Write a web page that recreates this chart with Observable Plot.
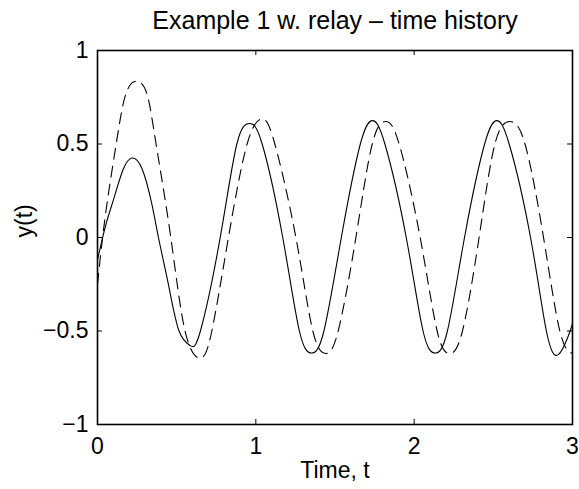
<!DOCTYPE html>
<html>
<head>
<meta charset="utf-8">
<script src="https://cdn.jsdelivr.net/npm/d3@7"></script>
<script src="https://cdn.jsdelivr.net/npm/@observablehq/plot@0.6"></script>
<style>
  html, body { margin: 0; padding: 0; background: #fff; }
</style>
</head>
<body>
<div id="chart"></div>
<script>
// ---- data ----
const titleText = "Example 1 w. relay \u2013 time history";
const xLabelText = "Time, t";
const yLabelText = "y(t)";

const xTicks = [0, 1, 2, 3];
const xTickLabels = ["0", "1", "2", "3"];
const yTicks = [-1, -0.5, 0, 0.5, 1];
const yTickLabels = ["\u22121", "\u22120.5", "0", "0.5", "1"];

// solid line
const tSolid = [0, 0.05, 0.10, 0.16, 0.217, 0.28, 0.343, 0.385, 0.45, 0.515, 0.585, 0.65, 0.775, 0.88, 0.96, 1.04, 1.17, 1.275, 1.352, 1.43, 1.54, 1.66, 1.737, 1.815, 1.95, 2.056, 2.133, 2.21, 2.318, 2.445, 2.522, 2.60, 2.735, 2.835, 2.912, 2.985, 3.0];
const ySolid = [-0.12, 0.06, 0.2, 0.36, 0.425, 0.37, 0.18, 0, -0.26, -0.5, -0.578, -0.5, 0, 0.5, 0.61, 0.5, 0, -0.5, -0.618, -0.5, 0, 0.5, 0.625, 0.5, 0, -0.5, -0.618, -0.5, 0, 0.5, 0.625, 0.5, 0, -0.5, -0.625, -0.5, -0.46];

// dashed line
const tDashed = [0, 0.05, 0.118, 0.18, 0.253, 0.315, 0.37, 0.463, 0.553, 0.648, 0.722, 0.827, 0.945, 1.04, 1.12, 1.253, 1.36, 1.442, 1.52, 1.632, 1.735, 1.82, 1.905, 2.038, 2.145, 2.224, 2.305, 2.41, 2.51, 2.605, 2.70, 2.817, 2.92, 3.0];
const yDashed = [-0.25, 0.12, 0.5, 0.77, 0.835, 0.76, 0.5, 0, -0.5, -0.645, -0.5, 0, 0.5, 0.634, 0.5, 0, -0.5, -0.62, -0.5, 0, 0.5, 0.62, 0.5, 0, -0.5, -0.62, -0.5, 0, 0.5, 0.62, 0.5, 0, -0.5, -0.62];

// ---- build ----
const solid = tSolid.map((t, i) => ({t, y: ySolid[i]}));
const dashed = tDashed.map((t, i) => ({t, y: yDashed[i]}));

const W = 579, H = 489;
const mL = 97, mR = 7, mT = 50, mB = 65;
const innerW = W - mL - mR, innerH = H - mT - mB;
const tickLen = 5;
const font = "'Liberation Sans', Arial, Helvetica, sans-serif";

const chart = Plot.plot({
  width: W,
  height: H,
  marginLeft: mL,
  marginRight: mR,
  marginTop: mT,
  marginBottom: mB,
  style: {fontFamily: font, background: "#fff", color: "#000", overflow: "visible"},
  x: {domain: [0, 3], nice: false},
  y: {domain: [-1, 1], nice: false},
  marks: [
    Plot.line(solid, {x: "t", y: "y", stroke: "#000", strokeWidth: 1.1, curve: "natural"}),
    Plot.line(dashed, {x: "t", y: "y", stroke: "#000", strokeWidth: 1.1, curve: "natural", strokeDasharray: "11,7"}),
    // inward ticks on all four sides
    Plot.tickX(xTicks, {x: d => d, insetTop: innerH - tickLen, stroke: "#000", strokeWidth: 1}),
    Plot.tickX(xTicks, {x: d => d, insetBottom: innerH - tickLen, stroke: "#000", strokeWidth: 1}),
    Plot.tickY(yTicks, {y: d => d, insetRight: innerW - tickLen, stroke: "#000", strokeWidth: 1}),
    Plot.tickY(yTicks, {y: d => d, insetLeft: innerW - tickLen, stroke: "#000", strokeWidth: 1}),
    Plot.frame({stroke: "#000", strokeWidth: 1.6}),
    Plot.axisX(xTicks, {tickSize: 0, tickPadding: 13, fontSize: 23, label: null,
      tickFormat: d => xTickLabels[xTicks.indexOf(d)]}),
    Plot.axisY(yTicks, {tickSize: 0, tickPadding: 9, fontSize: 23, label: null,
      tickFormat: d => yTickLabels[yTicks.indexOf(d)]}),
    Plot.text([titleText], {text: d => d, frameAnchor: "top", lineAnchor: "middle", dy: -30, fontSize: 25, fill: "#000"}),
    Plot.text([xLabelText], {text: d => d, frameAnchor: "bottom", lineAnchor: "middle", dy: 46, fontSize: 23, fill: "#000"}),
    Plot.text([yLabelText], {text: d => d, frameAnchor: "left", lineAnchor: "middle", dx: -73, rotate: -90, fontSize: 23, fill: "#000"})
  ]
});

document.getElementById("chart").appendChild(chart);
</script>
</body>
</html>
